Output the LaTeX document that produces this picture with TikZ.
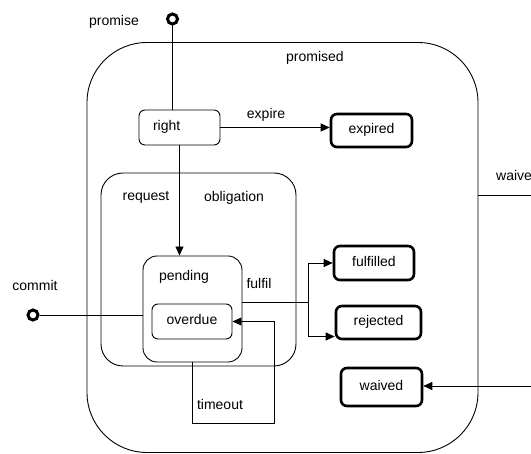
\documentclass[tikz,border=0pt]{standalone}
\usepackage{fontspec}
\setmainfont{Liberation Sans}
\usetikzlibrary{arrows.meta}
\begin{document}
\begin{tikzpicture}[x=1pt,y=-1pt,
  every node/.style={font=\fontsize{14}{16}\selectfont, inner sep=0pt},
  lbl/.style={text height=10pt, text depth=3pt},
  comp/.style={draw, line width=0.9pt},
  simple/.style={draw, line width=0.9pt, rounded corners=6pt},
  final/.style={draw, line width=2.6pt, rounded corners=6pt},
  initial/.style={draw, circle, line width=3pt, minimum size=10pt},
  conn/.style={draw, line width=0.9pt},
  trans/.style={conn, -{Triangle[length=9pt,width=8pt]}}]
\useasboundingbox (0,0) rectangle (531,454);
\clip (0,0) rectangle (531,454);

% composite states
\node[comp, minimum width=391, minimum height=410, rounded corners=60pt] (promised) at (282.5,247.5) {};
\node[comp, minimum width=195, minimum height=193, rounded corners=22pt] (obligation) at (198.5,269.5) {};
\node[comp, minimum width=99, minimum height=106, rounded corners=14pt] (pending) at (192.5,309) {};

% simple and final states
\node[simple, minimum width=81, minimum height=35, text width=53pt, align=left, inner xsep=14pt, lbl] (right) at (179.5,127.5) {right};
\node[simple, minimum width=80, minimum height=35, lbl] (overdue) at (192,321.5) {overdue};
\node[final, minimum width=81, minimum height=33, lbl] (expired) at (371.5,130.5) {expired};
\node[final, minimum width=80, minimum height=34, lbl] (fulfilled) at (374,263) {fulfilled};
\node[final, minimum width=85, minimum height=33, lbl] (rejected) at (378.5,322.5) {rejected};
\node[final, minimum width=81, minimum height=38, lbl] (waived) at (381.5,387) {waived};

% initial pseudo-states
\node[initial] (ipromise) at (172.5,19) {};
\node[initial] (icommit) at (33,315) {};

% state and event labels
\node[lbl] (lpromise) at (114,22) {promise};
\node[lbl] (lpromised) at (315,58) {promised};
\node[lbl] (lexpire) at (266,115) {expire};
\node[lbl] (lrequest) at (146,197) {request};
\node[lbl] (lobligation) at (234,198) {obligation};
\node[lbl] (lpending) at (184,277) {pending};
\node[lbl] (lfulfil) at (259,285) {fulfil};
\node[lbl] (lcommit) at (35,287) {commit};
\node[lbl] (ltimeout) at (220,406) {timeout};
\node[lbl, anchor=west] (lwaive) at (496,177) {waive};

% helper points for routed connectors
\coordinate (fj) at (308.5,302);
\coordinate (tA) at (274,423);
\coordinate (wA) at (545,195);
\coordinate (wB) at (545,386);

% transitions
\draw[conn] (ipromise.south) -- (ipromise.south |- right.north);
\draw[trans] (right.south) -- (right.south |- pending.north);
\draw[trans] (right.east) -- (right.east -| expired.west);
\draw[conn] (icommit.east) -- (icommit.east -| pending.west);
\draw[conn] (fj -| pending.east) -- (fj);
\draw[trans] (fj) |- (fulfilled.west);
\draw[trans] (fj) |- ([yshift=-14pt]rejected.west);
\draw[trans] (pending.south) |- (tA) |- (overdue.east);
\draw[trans] (promised.east |- wA) -- (wA) -- (wB) -- (wB -| waived.east);
\end{tikzpicture}
\end{document}
